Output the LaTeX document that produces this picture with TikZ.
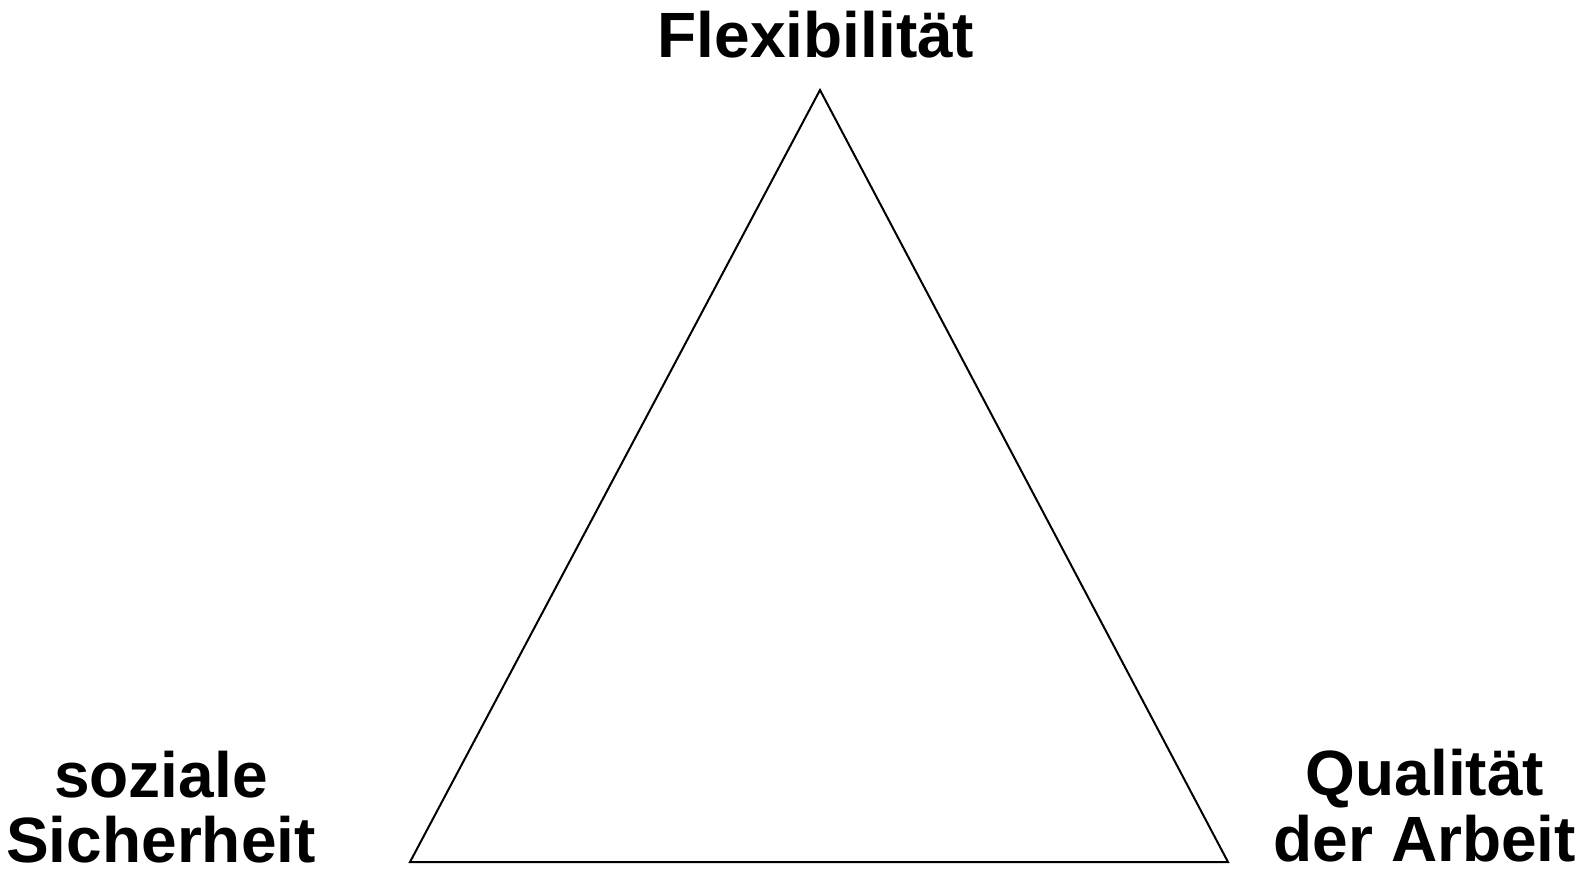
\documentclass[tikz,border=0pt]{standalone}
\usepackage{fontspec}
\setmainfont{Liberation Sans}
\begin{document}
\begin{tikzpicture}[x=1pt,y=-1pt,
  lbl/.style={font=\fontsize{64}{66}\selectfont\bfseries, anchor=base, inner sep=0pt},
  edge/.style={draw=black, line width=2pt, line join=miter}]
\useasboundingbox (0,0) rectangle (1585,881);
\coordinate (top) at (820,90);
\coordinate (bl) at (410,862);
\coordinate (br) at (1228,862);
\draw[edge] (top) -- (bl) -- (br) -- cycle;
\node[lbl] (flex) at (816,57) {Flexibilität};
\node[lbl] (soz1) at (161,797) {soziale};
\node[lbl] (soz2) at (161,862) {Sicherheit};
\node[lbl] (qua1) at (1425,795) {Qualität};
\node[lbl] (qua2) at (1425,861) {der Arbeit};
\end{tikzpicture}
\end{document}
